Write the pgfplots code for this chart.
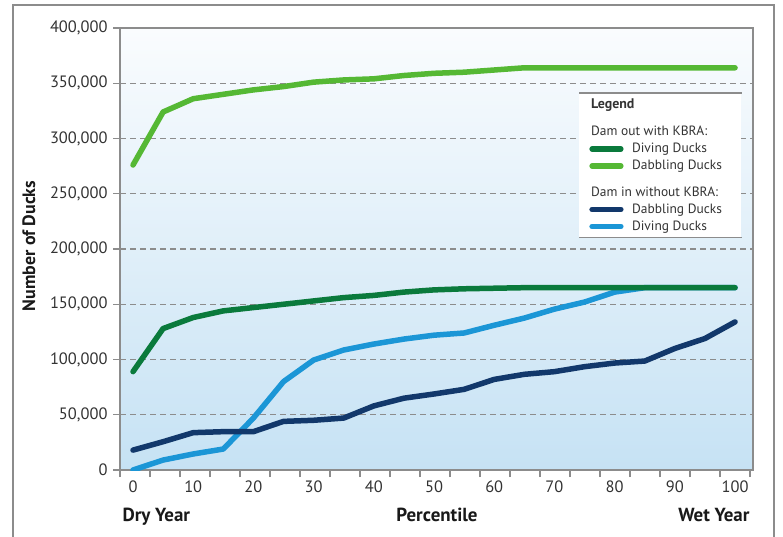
\documentclass[border=0pt]{standalone}
\usepackage{fontspec}
\setmainfont{PT Sans}
\usepackage{pgfplots}
\pgfplotsset{compat=1.18}
\definecolor{lgreen}{HTML}{55B834}
\definecolor{dgreen}{HTML}{0A7A3C}
\definecolor{navy}{HTML}{12386B}
\definecolor{lblue}{HTML}{1B96D6}
\definecolor{bgtop}{HTML}{FAFCFE}
\definecolor{bgbot}{HTML}{C6E2F4}
\definecolor{framegray}{HTML}{8C8C8C}
\definecolor{txt}{HTML}{333333}
\begin{document}
\begin{tikzpicture}
\useasboundingbox (0bp,0bp) rectangle (783bp,-537bp);
\fill[white] (0bp,0bp) rectangle (783bp,-537bp);
\draw[framegray, line width=1.5bp] (13bp,-560bp) -- (13bp,-5bp) -- (774bp,-5bp) -- (774bp,-560bp);
\begin{axis}[
  at={(120bp,-470bp)}, anchor=south west,
  width=633bp, height=442bp, scale only axis,
  xmin=-2.16, xmax=102.98, ymin=0, ymax=400000,
  axis background/.style={top color=bgtop, bottom color=bgbot},
  axis line style={framegray, line width=1.6bp},
  xtick={-2.16,2.823,...,103}, xticklabels={},
  extra x ticks={0,10,...,100},
  extra x tick style={grid=none, major tick length=0pt, xticklabel style={yshift=-7bp}},
  ytick={0,50000,...,400000},
  scaled y ticks=false,
  yticklabel style={xshift=-2bp, /pgf/number format/.cd, fixed, 1000 sep={,}},
  /pgf/number format/assume math mode=true,
  tick label style={font=\fontsize{16.5}{18}\selectfont, text=txt},
  xtick pos=bottom, ytick pos=left,
  tick align=outside, major tick length=7bp,
  tick style={framegray, line width=1.3bp},
  ymajorgrids, xmajorgrids=false,
  major grid style={framegray, line width=1.1bp, dash pattern=on 6bp off 4bp},
  legend style={name=leg, at={(axis cs:74.1,341200)}, anchor=north west,
    draw=none, fill=white, inner xsep=10bp, inner ysep=4bp,
    row sep=3bp, column sep=7bp,
    font=\fontsize{13.5}{15}\selectfont, text=txt,
    nodes={inner sep=1.5bp}},
  legend cell align=left,
  legend image code/.code={\draw[#1, line cap=round] (2.8bp,0bp) -- (31.5bp,0bp);},
]
\addplot[lblue, line width=5.5bp, line join=round, line cap=round, forget plot] coordinates {
(0,0) (5,9000) (10,14500) (15,19000) (20,47000) (25,80000) (30,99500) (35,108600)
(40,114000) (45,118500) (50,122000) (55,124000) (60,131000) (65,137500) (70,145600)
(75,152000) (80,161000) (85,165000) (90,165000) (95,165000) (100,165000)};
\addplot[navy, line width=5.5bp, line join=round, line cap=round, forget plot] coordinates {
(0,18000) (5,25600) (10,33800) (15,34700) (20,34700) (25,44000) (30,45000) (35,47000)
(40,58000) (45,65000) (50,68800) (55,73000) (60,82000) (65,86600) (70,89000)
(75,93500) (80,96800) (85,98600) (90,110000) (95,119000) (100,134000)};
\addplot[dgreen, line width=5.5bp, line join=round, line cap=round, forget plot] coordinates {
(0,89000) (5,128000) (10,138000) (15,144000) (20,147000) (25,150000) (30,153000) (35,156000)
(40,158000) (45,161000) (50,163000) (55,164000) (60,164500) (65,165000) (70,165000)
(75,165000) (80,165000) (85,165000) (90,165000) (95,165000) (100,165000)};
\addplot[lgreen, line width=5.5bp, line join=round, line cap=round, forget plot] coordinates {
(0,276000) (5,324000) (10,336000) (15,340000) (20,344000) (25,347000) (30,351000) (35,353000)
(40,354000) (45,357000) (50,359000) (55,360000) (60,362000) (65,364000) (70,364000)
(75,364000) (80,364000) (85,364000) (90,364000) (95,364000) (100,364000)};
\addlegendimage{empty legend}
\addlegendentry{\hspace*{-41bp}\textbf{\fontsize{14}{15}\selectfont Legend}}
\addlegendimage{empty legend}
\addlegendentry{\hspace*{-41bp}\rule{0pt}{20bp}Dam out with KBRA:}
\addlegendimage{dgreen, line width=5.5bp}
\addlegendentry{Diving Ducks}
\addlegendimage{lgreen, line width=5.5bp}
\addlegendentry{Dabbling Ducks\hspace*{8bp}}
\addlegendimage{empty legend}
\addlegendentry{\hspace*{-41bp}\rule{0pt}{19bp}Dam in without KBRA:}
\addlegendimage{navy, line width=5.5bp}
\addlegendentry{Dabbling Ducks\hspace*{8bp}}
\addlegendimage{lblue, line width=5.5bp}
\addlegendentry{Diving Ducks}
\end{axis}
\draw[framegray, line width=1.6bp] (leg.north west) -- (leg.north east);
\draw[framegray, line width=1.6bp] (leg.south west) -- (leg.south east);
\node[anchor=base west, font=\fontsize{19}{21}\selectfont\bfseries, text=black!90] at (119bp,-521.5bp) {Dry Year};
\node[anchor=base, font=\fontsize{19}{21}\selectfont\bfseries, text=black!90] at (437bp,-521.5bp) {Percentile};
\node[anchor=base east, font=\fontsize{19}{21}\selectfont\bfseries, text=black!90] at (753bp,-521.5bp) {Wet Year};
\node[rotate=90, font=\fontsize{18}{20}\selectfont\bfseries, text=black!90] at (29bp,-246bp) {Number of Ducks};
\end{tikzpicture}
\end{document}
